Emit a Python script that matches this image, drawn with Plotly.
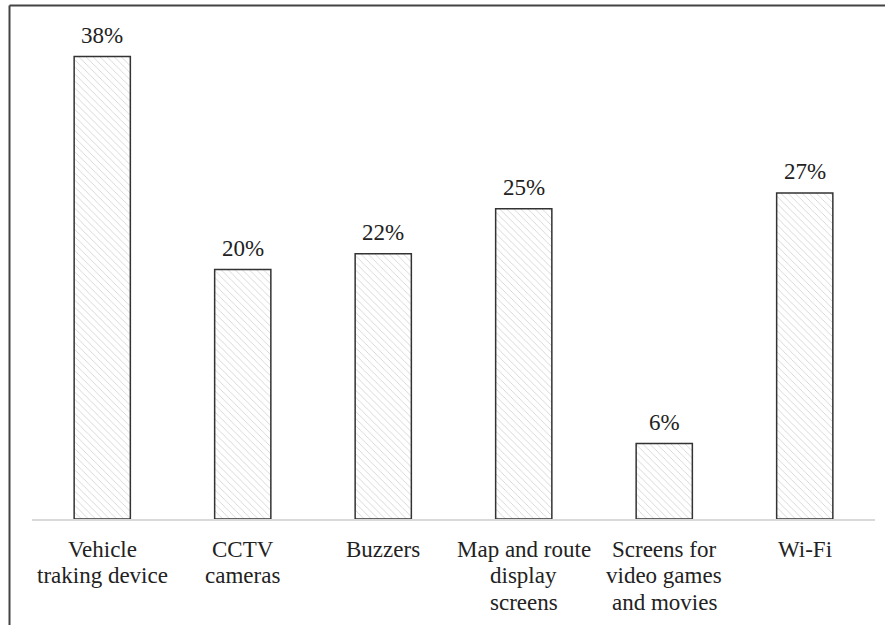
import plotly.graph_objects as go

categories = ["Vehicle<br>traking device", "CCTV<br>cameras", "Buzzers",
              "Map and route<br>display<br>screens", "Screens for<br>video games<br>and movies", "Wi-Fi"]
values = [38.0, 20.5, 21.8, 25.5, 6.2, 26.8]
labels = ["38%", "20%", "22%", "25%", "6%", "27%"]

W, H = 885, 625
L, R, T, B = 32, 10, 10, 106
ymax = 41.83
font = "Liberation Serif, Tinos, Times New Roman, serif"
fs = 23
line_gap = 26.5

fig = go.Figure()
fig.add_trace(go.Bar(
    x=categories, y=values, width=0.4,
    marker=dict(color="white",
                line=dict(color="#333333", width=1.5),
                pattern=dict(shape="\\", size=5, solidity=0.15, fgcolor="#999999", bgcolor="white")),
    hoverinfo="skip",
))
for c, v, t in zip(categories, values, labels):
    fig.add_annotation(x=c, y=v, text=t, showarrow=False, yanchor="bottom", yshift=7,
                       font=dict(family=font, size=fs, color="#222222"))

# category labels, one annotation per line for tighter line spacing
for c in categories:
    for i, part in enumerate(c.split("<br>")):
        fig.add_annotation(x=c, y=0, text=part, showarrow=False, yanchor="middle",
                           yshift=-(30 + i * line_gap),
                           font=dict(family=font, size=fs, color="#222222"))

pw = W - L - R
ph = H - T - B
def px(x): return (x - L) / pw
def py(y): return (H - B - y) / ph

fig.add_shape(type="line", xref="paper", yref="paper", x0=px(9.5), x1=px(886), y0=py(5.5), y1=py(5.5),
              line=dict(color="#444444", width=2))
fig.add_shape(type="line", xref="paper", yref="paper", x0=px(9.5), x1=px(9.5), y0=py(5.5), y1=py(626),
              line=dict(color="#444444", width=2))

fig.update_layout(
    width=W, height=H,
    margin=dict(l=L, r=R, t=T, b=B),
    plot_bgcolor="white", paper_bgcolor="white",
    showlegend=False,
    font=dict(family=font, size=fs, color="#222222"),
    xaxis=dict(showline=True, linecolor="#d9d9d9", linewidth=1.5, ticks="", showgrid=False,
               showticklabels=False),
    yaxis=dict(range=[0, ymax], visible=False, showgrid=False, zeroline=False),
)
fig.write_html("out.html", config={"displayModeBar": False},
               post_script="document.body.style.margin='0';")
